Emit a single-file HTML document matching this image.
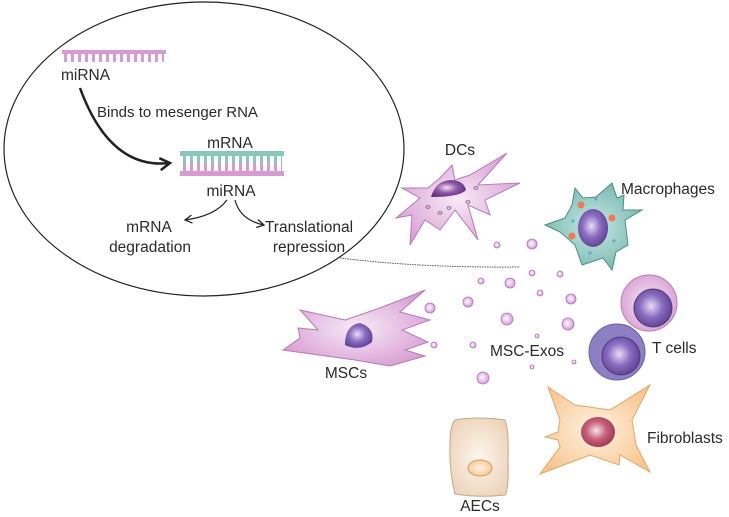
<!DOCTYPE html>
<html><head><meta charset="utf-8"><style>
html,body{margin:0;padding:0;background:#fff;}
svg{display:block;}
text{font-family:"Liberation Sans",sans-serif;fill:#2a2a2a;}
</style></head><body>
<svg width="729" height="517" viewBox="0 0 729 517" xmlns="http://www.w3.org/2000/svg">
<defs>
<radialGradient id="pk" cx="50%" cy="50%" r="60%"><stop offset="0" stop-color="#f7eaf6"/><stop offset="1" stop-color="#d79ad3"/></radialGradient>
<radialGradient id="nuc" cx="45%" cy="45%" r="60%"><stop offset="0" stop-color="#e8ddf5"/><stop offset="0.5" stop-color="#8a6cc0"/><stop offset="1" stop-color="#5a3f8e"/></radialGradient>
<radialGradient id="nuc2" cx="45%" cy="45%" r="60%"><stop offset="0" stop-color="#efe3f3"/><stop offset="0.5" stop-color="#9158a8"/><stop offset="1" stop-color="#5f2f78"/></radialGradient>
<radialGradient id="tl" cx="50%" cy="50%" r="60%"><stop offset="0" stop-color="#c8e8e2"/><stop offset="1" stop-color="#6fb5ab"/></radialGradient>
<radialGradient id="or" cx="50%" cy="50%" r="60%"><stop offset="0" stop-color="#fff2e2"/><stop offset="1" stop-color="#f7c48e"/></radialGradient>
<radialGradient id="rd" cx="45%" cy="45%" r="60%"><stop offset="0" stop-color="#f8e4ec"/><stop offset="0.5" stop-color="#c8607a"/><stop offset="1" stop-color="#9a3552"/></radialGradient>
<radialGradient id="be" cx="50%" cy="50%" r="60%"><stop offset="0" stop-color="#fdf6ee"/><stop offset="1" stop-color="#ecd3b9"/></radialGradient>
<radialGradient id="ves" cx="45%" cy="45%" r="60%"><stop offset="0" stop-color="#fff"/><stop offset="1" stop-color="#d08fd6"/></radialGradient>
<pattern id="teethP" width="7" height="10" patternUnits="userSpaceOnUse"><rect x="1" y="0" width="3" height="10" fill="#d89ad3"/></pattern>
<pattern id="teethT" width="7" height="10" patternUnits="userSpaceOnUse"><rect x="1" y="0" width="3" height="10" fill="#8cc7bd"/></pattern>
<marker id="ah" markerWidth="10" markerHeight="10" refX="8" refY="5" orient="auto" markerUnits="userSpaceOnUse"><path d="M1,1 L8,5 L1,9" fill="none" stroke="#222" stroke-width="1.3"/></marker>
<marker id="ahb" markerWidth="16" markerHeight="16" refX="12" refY="8" orient="auto" markerUnits="userSpaceOnUse"><path d="M2,2 L12,8 L2,14" fill="none" stroke="#222" stroke-width="2.5"/></marker>
</defs>

<ellipse cx="204" cy="149" rx="200" ry="147" fill="none" stroke="#222" stroke-width="1.2"/>
<path d="M340,258 Q420,268 520,267" fill="none" stroke="#555" stroke-width="1" stroke-dasharray="1.5,1"/>

<rect x="62" y="50" width="104" height="4" fill="#d89ad3"/>
<rect x="64" y="54" width="100" height="8" fill="url(#teethP)"/>
<text x="61" y="80" font-size="15.5">miRNA</text>
<path d="M80,88 Q110,170 170,163" fill="none" stroke="#222" stroke-width="2.5" marker-end="url(#ahb)"/>
<text x="97" y="117" font-size="15">Binds to mesenger RNA</text>
<text x="230" y="148" font-size="15.5" text-anchor="middle">mRNA</text>
<rect x="180" y="151" width="104" height="5" fill="#8cc7bd"/>
<rect x="182" y="156" width="100" height="7" fill="url(#teethT)"/>
<rect x="182" y="163" width="100" height="8" fill="url(#teethP)"/>
<rect x="180" y="171" width="104" height="5" fill="#d89ad3"/>
<text x="231" y="196" font-size="15.5" text-anchor="middle">miRNA</text>
<path d="M227,200 Q215,216 185,220" fill="none" stroke="#222" stroke-width="1.2" marker-end="url(#ah)"/>
<path d="M235,200 Q240,220 264,225" fill="none" stroke="#222" stroke-width="1.2" marker-end="url(#ah)"/>
<text x="149" y="232" font-size="15.5" text-anchor="middle">mRNA</text>
<text x="150" y="252" font-size="15.5" text-anchor="middle">degradation</text>
<text x="309" y="232" font-size="15.5" text-anchor="middle">Translational</text>
<text x="309" y="252" font-size="15.5" text-anchor="middle">repression</text>

<!-- DC -->
<path d="M440,178 L452,165 L455,180 L470,175 L507,153 L478,185 L520,183 L485,200 L490,215 L468,205 L478,240 L455,210 L440,230 L425,220 L410,245 L412,215 L396,218 L420,198 L402,188 L428,188 Z" fill="url(#pk)" stroke="#b77bb4" stroke-width="1"/>
<path d="M431,197 Q436,180 452,180 Q464,181 466,190 Q460,197 431,197 Z" fill="url(#nuc2)"/>
<g fill="none" stroke="#8d5a8b" stroke-width="0.8"><ellipse cx="428" cy="207" rx="2" ry="1.3"/><ellipse cx="449" cy="208" rx="2" ry="1.3"/><ellipse cx="468" cy="202" rx="2" ry="1.3"/><ellipse cx="476" cy="188" rx="2" ry="1.3"/><ellipse cx="440" cy="213" rx="2" ry="1.3"/></g>
<text x="460" y="155" font-size="15.5" text-anchor="middle">DCs</text>

<!-- Macrophage -->
<path d="M572,205 L575,188 L583,198 L596,197 L612,183 L617,198 L624,195 L623,210 L642,210 L625,220 L628,245 L616,252 L612,270 L603,258 L582,265 L575,245 L560,232 L545,225 L565,218 Z" fill="url(#tl)" stroke="#4f8c84" stroke-width="1"/>
<ellipse cx="593" cy="228" rx="15" ry="19" fill="url(#nuc)"/>
<g fill="#ef7a5a"><circle cx="581" cy="205" r="3.5"/><circle cx="612" cy="218" r="3.5"/><circle cx="572" cy="236" r="3.5"/></g>
<g fill="#6aa6d8"><circle cx="596" cy="199" r="1.6"/><circle cx="573" cy="221" r="1.6"/><circle cx="614" cy="241" r="1.6"/><circle cx="590" cy="253" r="1.6"/></g>
<text x="621" y="194" font-size="15.5">Macrophages</text>

<circle cx="649" cy="303" r="28" fill="url(#pk)" stroke="#b77bb4"/>
<circle cx="653" cy="308" r="19" fill="url(#nuc)" stroke="#4f3a7a"/>
<circle cx="617" cy="352" r="28" fill="#8d7fc4" stroke="#6c5fa8"/>
<circle cx="621" cy="356" r="19" fill="url(#nuc)" stroke="#4f3a7a"/>
<text x="652" y="353" font-size="15.5">T cells</text>

<!-- MSC -->
<path d="M283,350 L300,338 L298,328 L318,330 L300,310 L345,320 Q390,305 425,290 L400,312 L430,320 L402,330 L428,342 L405,350 L425,356 L390,366 L355,360 Q320,355 283,350 Z" fill="url(#pk)" stroke="#b77bb4" stroke-width="1"/>
<path d="M345,345 Q345,325 360,323 Q375,328 372,342 Q360,352 345,345 Z" fill="url(#nuc)"/>
<text x="346" y="378" font-size="15.5" text-anchor="middle">MSCs</text>

<g fill="url(#ves)" stroke="#b070b8" stroke-width="0.8">
<circle cx="497" cy="245" r="3"/><circle cx="532" cy="244" r="5"/><circle cx="481" cy="281" r="3"/><circle cx="510" cy="283" r="5"/>
<circle cx="532" cy="273" r="3"/><circle cx="560" cy="274" r="3"/><circle cx="468" cy="302" r="5"/><circle cx="540" cy="293" r="3"/>
<circle cx="571" cy="299" r="5"/><circle cx="430" cy="308" r="5"/><circle cx="507" cy="319" r="6"/><circle cx="568" cy="324" r="6"/>
<circle cx="434" cy="345" r="3"/><circle cx="473" cy="345" r="3"/><circle cx="537" cy="336" r="2"/><circle cx="574" cy="362" r="2"/>
<circle cx="532" cy="367" r="2"/><circle cx="483" cy="378" r="6"/></g>
<text x="527" y="356" font-size="15.5" text-anchor="middle">MSC-Exos</text>

<path d="M548,387 L575,405 L610,410 L650,385 L632,420 L636,445 L650,472 L620,455 L619,465 L590,455 L540,474 L560,447 L558,440 L545,437 L558,432 L560,420 Z" fill="url(#or)" stroke="#e0a86a" stroke-width="1"/>
<ellipse cx="598" cy="432" rx="17" ry="15" fill="url(#rd)"/>
<text x="647" y="443" font-size="15.5">Fibroblasts</text>

<path d="M455,420 Q478,416 505,420 Q509,430 508,460 Q509,490 505,495 Q480,498 455,494 Q449,470 450,445 Q450,425 455,420 Z" fill="url(#be)" stroke="#c8a486" stroke-width="1"/>
<ellipse cx="480" cy="468" rx="12" ry="8" fill="url(#or)" stroke="#d69a5e"/>
<text x="480" y="511" font-size="15.5" text-anchor="middle">AECs</text>
</svg>
</body></html>
